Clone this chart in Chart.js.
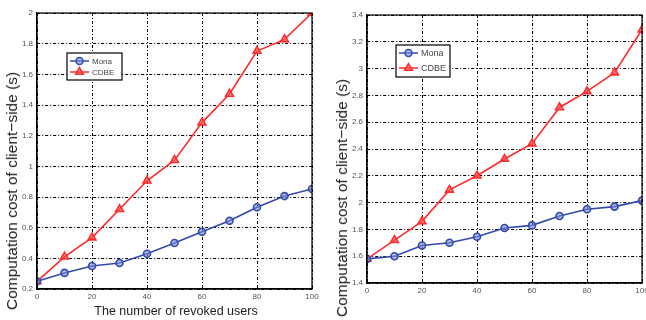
<!DOCTYPE html>
<html>
<head>
<meta charset="utf-8">
<script src="https://cdn.jsdelivr.net/npm/chart.js@4.4.0/dist/chart.umd.min.js"></script>
<style>
  html, body { margin: 0; padding: 0; background: #fff; overflow: hidden; }
  body { width: 646px; height: 320px; position: relative; font-family: "Liberation Sans", Arial, sans-serif; }
  .box { position: absolute; top: 0; width: 325px; height: 320px; }
  .box canvas { filter: blur(0.3px); }
  .ytitle, .xtitle { position: absolute; white-space: nowrap; color: #222; transform-origin: center; }
  .ytitle { font-size: 15.5px; transform: translate(-50%, -50%) rotate(-90deg); }
  .xtitle { font-size: 12.5px; transform: translate(-50%, -50%); }
</style>
</head>
<body>
<div class="box" style="left:0"><canvas id="left"></canvas></div>
<div class="box" style="left:330px"><canvas id="right"></canvas></div>
<div class="ytitle" style="left:12px; top:191px">Computation cost of client−side (s)</div>
<div class="ytitle" style="left:342px; top:198px">Computation cost of client−side (s)</div>
<div class="xtitle" style="left:176px; top:311px">The number of revoked users</div>
<script>
// revoked users (x)
const users = [0, 10, 20, 30, 40, 50, 60, 70, 80, 90, 100];
const seriesNames = ['Mona', 'CDBE'];

// left panel
const leftMona = [0.25, 0.305, 0.35, 0.37, 0.43, 0.50, 0.573, 0.645, 0.733, 0.806, 0.852];
const leftCdbe = [0.25, 0.41, 0.535, 0.72, 0.906, 1.04, 1.285, 1.472, 1.752, 1.828, 2.0];

// right panel
const rightMona = [1.58, 1.60, 1.68, 1.70, 1.745, 1.81, 1.83, 1.90, 1.95, 1.97, 2.015];
const rightCdbe = [1.58, 1.72, 1.86, 2.095, 2.2, 2.325, 2.44, 2.71, 2.83, 2.97, 3.29];

const BLUE = '#3449ad';
const RED = '#ff2b2b';

// draw the top/right frame of the plot
const framePlugin = {
    id: 'frame',
    afterDraw(chart) {
        const a = chart.chartArea, ctx = chart.ctx;
        ctx.save();
        ctx.strokeStyle = '#000';
        ctx.lineWidth = 1.2;
        ctx.strokeRect(a.left, a.top, a.right - a.left, a.bottom - a.top);
        ctx.restore();
    }
};

// matlab style boxed legend
const boxLegend = {
    id: 'boxLegend',
    afterDraw(chart, args, opts) {
        const ctx = chart.ctx;
        ctx.save();
        ctx.fillStyle = '#fff';
        ctx.fillRect(opts.x, opts.y, opts.w, opts.h);
        ctx.strokeStyle = '#000';
        ctx.lineWidth = 1.2;
        ctx.strokeRect(opts.x, opts.y, opts.w, opts.h);
        chart.data.datasets.forEach((ds, i) => {
            const y = opts.y + opts.rows[i];
            const x0 = opts.x + 3, x1 = opts.x + 22;
            ctx.strokeStyle = ds.borderColor;
            ctx.lineWidth = 1.5;
            ctx.beginPath();
            ctx.moveTo(x0, y);
            ctx.lineTo(x1, y);
            ctx.stroke();
            ctx.fillStyle = ds.pointBackgroundColor;
            ctx.strokeStyle = ds.borderColor;
            Chart.helpers.drawPoint(ctx, {
                pointStyle: ds.pointStyle, radius: ds.pointRadius,
                borderWidth: 1, rotation: 0
            }, (x0 + x1) / 2, y);
            ctx.fillStyle = '#444';
            ctx.font = opts.font + 'px "Liberation Sans", Arial, sans-serif';
            ctx.textBaseline = 'middle';
            ctx.fillText(ds.label, x1 + 3, y + 0.5);
        });
        ctx.restore();
    }
};

function makeChart(id, mona, cdbe, yMin, yMax, top, xAxisH, legend) {
    new Chart(document.getElementById(id), {
        type: 'line',
        data: {
            datasets: [{
                label: seriesNames[0],
                data: users.map((u, i) => ({ x: u, y: mona[i] })),
                borderColor: BLUE,
                backgroundColor: BLUE,
                pointBackgroundColor: 'rgba(120,140,215,0.6)',
                pointBorderColor: BLUE,
                pointStyle: 'circle',
                pointRadius: 3.5,
                borderWidth: 1.6,
                tension: 0
            }, {
                label: seriesNames[1],
                data: users.map((u, i) => ({ x: u, y: cdbe[i] })),
                borderColor: RED,
                backgroundColor: RED,
                pointBackgroundColor: 'rgba(255,90,90,0.6)',
                pointBorderColor: RED,
                pointStyle: 'triangle',
                pointRadius: 4.5,
                borderWidth: 1.6,
                tension: 0
            }]
        },
        options: {
            responsive: true,
            maintainAspectRatio: false,
            animation: false,
            layout: { padding: { left: 0, right: 13, top: top, bottom: 0 } },
            scales: {
                x: {
                    type: 'linear',
                    min: 0,
                    max: 100,
                    ticks: {
                        stepSize: 20,
                        color: '#555',
                        padding: 3,
                        maxRotation: 0,
                        font: { size: 8, family: '"Liberation Sans", Arial, sans-serif' }
                    },
                    grid: { color: '#000', lineWidth: 1, drawTicks: false },
                    border: { color: '#000', width: 1.2, dash: [3, 2, 1, 2] },
                    afterFit(scale) { scale.height = xAxisH; }
                },
                y: {
                    min: yMin,
                    max: yMax,
                    ticks: {
                        stepSize: 0.2,
                        color: '#555',
                        padding: 4,
                        font: { size: 8, family: '"Liberation Sans", Arial, sans-serif' },
                        callback: v => String(Math.round(v * 10) / 10)
                    },
                    grid: { color: '#000', lineWidth: 1, drawTicks: false },
                    border: { color: '#000', width: 1.2, dash: [3, 2, 1, 2] },
                    afterFit(scale) { scale.width = 37; }
                }
            },
            plugins: {
                legend: { display: false },
                tooltip: { enabled: false },
                boxLegend: legend
            }
        },
        plugins: [framePlugin, boxLegend]
    });
}

makeChart('left', leftMona, leftCdbe, 0.2, 2, 13, 31,
    { x: 67, y: 53, w: 55, h: 27, rows: [8, 19], font: 8 });
makeChart('right', rightMona, rightCdbe, 1.4, 3.4, 15, 37,
    { x: 66, y: 45, w: 54, h: 32, rows: [8, 23], font: 9 });
</script>
</body>
</html>
